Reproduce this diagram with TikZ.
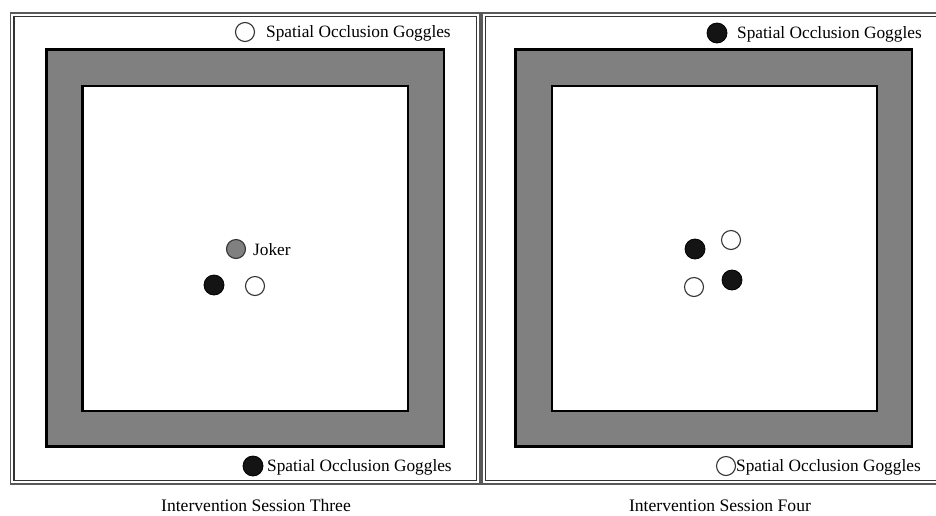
\documentclass[tikz,border=0pt]{standalone}
\usepackage{fontspec}
\setmainfont{Liberation Serif}
\begin{document}
\begin{tikzpicture}[x=1pt,y=-1pt,
  frameouter/.style={draw=black!65,line width=1.6pt},
  frameinner/.style={draw=black!80,line width=1.1pt},
  wall/.style={draw=black,line width=2.4pt,fill=black!50},
  arena/.style={draw=black,line width=2.4pt,fill=white},
  wdot/.style={circle,draw=black!80,line width=1.1pt,fill=white,minimum size=19pt,inner sep=0pt},
  bdot/.style={circle,draw=black,line width=0.8pt,fill=black!92,minimum size=20pt,inner sep=0pt},
  gdot/.style={circle,draw=black!80,line width=1.1pt,fill=black!50,minimum size=19pt,inner sep=0pt},
  lbl/.style={anchor=west,inner sep=0pt,font=\fontsize{17.3}{20}\selectfont},
  captext/.style={inner sep=0pt,font=\fontsize{17.6}{20}\selectfont}]
\useasboundingbox (0,0) rectangle (936,515);
% left panel frame
\draw[frameouter] (10.5,13) rectangle (480,484);
\draw[frameinner] (14,16.5) rectangle (476.5,480.5);
% right panel frame
\draw[frameouter] (482,13) rectangle (938,484);
\draw[frameinner] (485.5,16.5) rectangle (941,480.5);
% left arena
\draw[wall] (46.5,49.5) rectangle (444,446.5);
\draw[arena] (82.5,86) rectangle (408,411);
% right arena
\draw[wall] (515.5,49.5) rectangle (912,446.5);
\draw[arena] (552,86) rectangle (877,411);
% left legend
\node[wdot] (lt) at (245,32) {};
\node[lbl] (ltl) at (266,33) {Spatial Occlusion Goggles};
\node[bdot] (lb) at (253,466) {};
\node[lbl] (lbl) at (267,467) {Spatial Occlusion Goggles};
% left dots
\node[gdot] (joker) at (236,249) {};
\node[lbl] (jokerl) at (253,250) {Joker};
\node[bdot] (lb1) at (214,285) {};
\node[wdot] (lw1) at (255,286) {};
% right legend
\node[bdot] (rt) at (717,33) {};
\node[lbl] (rtl) at (737,34) {Spatial Occlusion Goggles};
\node[wdot] (rb) at (726,466) {};
\node[lbl] (rbl) at (736,467) {Spatial Occlusion Goggles};
% right dots
\node[bdot] (rb1) at (695,249) {};
\node[wdot] (rw1) at (731,240) {};
\node[wdot] (rw2) at (694,287) {};
\node[bdot] (rb2) at (732,280) {};
% captions
\node[captext] (c1) at (256,505.5) {Intervention Session Three};
\node[captext] (c2) at (720,505.5) {Intervention Session Four};
\end{tikzpicture}
\end{document}
